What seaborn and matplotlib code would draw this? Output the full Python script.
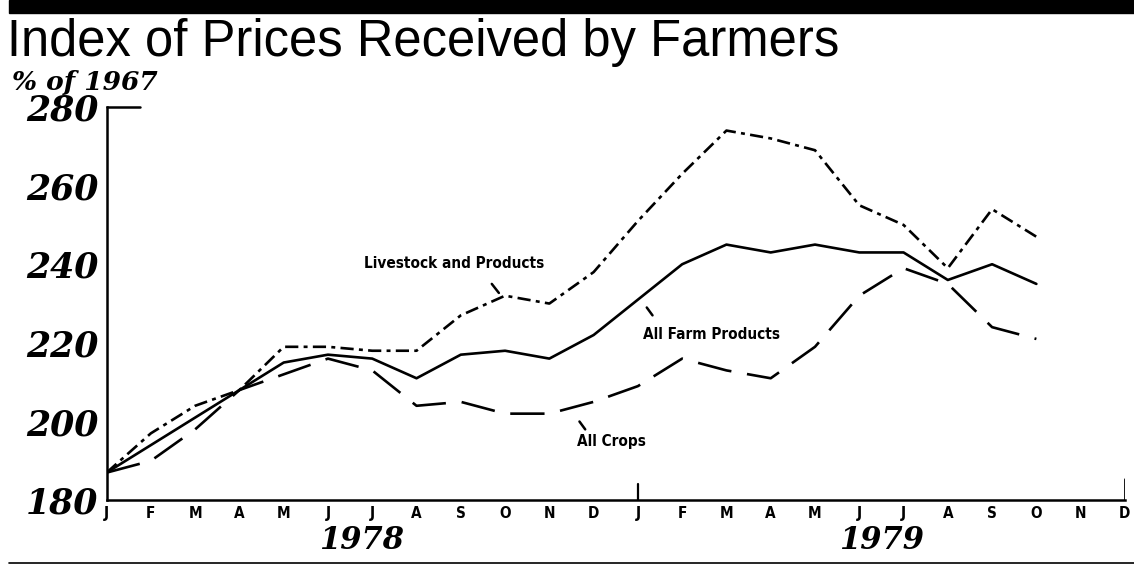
import pandas as pd
import matplotlib.pyplot as plt
import seaborn as sns
from matplotlib.patches import Rectangle
from matplotlib.lines import Line2D
import matplotlib.transforms as mtransforms

# Data (index, 1967 = 100), Jan 1978 .. Oct 1979
month_labels = ['J', 'F', 'M', 'A', 'M', 'J', 'J', 'A', 'S', 'O', 'N', 'D'] * 2
livestock = [187, 197, 204, 208, 219, 219, 218, 218, 227, 232, 230, 238,
             251, 263, 274, 272, 269, 255, 250, 239, 254, 247]
all_farm = [187, 194, 201, 208, 215, 217, 216, 211, 217, 218, 216, 222,
            231, 240, 245, 243, 245, 243, 243, 236, 240, 235]
all_crops = [187, 190, 198, 208, 212, 216, 213, 204, 205, 202, 202, 205,
             209, 216, 213, 211, 219, 232, 239, 235, 224, 221]
years = ['1978', '1979']

rows = []
for name, vals in [('Livestock and Products', livestock),
                   ('All Farm Products', all_farm),
                   ('All Crops', all_crops)]:
    for i, v in enumerate(vals):
        rows.append({'month': i, 'value': v, 'series': name})
df = pd.DataFrame(rows)

sns.set_style('white')
plt.rcParams['font.family'] = ['DejaVu Sans']
plt.rcParams['text.color'] = 'black'
plt.rcParams['xtick.color'] = 'black'
plt.rcParams['ytick.color'] = 'black'
plt.rcParams['axes.edgecolor'] = 'black'

fig = plt.figure(figsize=(11.34, 5.69), dpi=100)
ax = fig.add_axes([0.094, 0.121, 0.898, 0.691])

sns.lineplot(
    data=df, x='month', y='value', hue='series', style='series',
    palette={'Livestock and Products': 'black', 'All Farm Products': 'black', 'All Crops': 'black'},
    dashes={'Livestock and Products': (5, 2, 1.5, 2), 'All Farm Products': '',
            'All Crops': (13, 6)},
    linewidth=1.9, legend=False, ax=ax,
)

ax.set_xlim(0, 23)
ax.set_ylim(180, 280)
for s in ['top', 'right']:
    ax.spines[s].set_visible(False)
ax.spines['left'].set_linewidth(1.8)
ax.spines['bottom'].set_linewidth(1.8)
ax.set_xlabel('')
ax.set_ylabel('')

# y axis
ax.set_yticks([180, 200, 220, 240, 260, 280])
ax.set_yticklabels(['180', '200', '220', '240', '260', '280'],
                   family='DejaVu Serif', fontweight='bold', style='italic', fontsize=25)
ax.tick_params(axis='y', direction='in', length=8, width=1.8, pad=6)
ax.plot([0, 0.75], [280, 280], color='black', lw=1.8, clip_on=False)

# x axis
ax.set_xticks(range(24))
ax.set_xticklabels(month_labels, family='DejaVu Sans', fontweight='bold',
                   stretch='condensed', fontsize=11)
ax.tick_params(axis='x', direction='in', length=4, width=1.4, pad=4)
ax.axvline(12, ymin=0, ymax=0.04, color='black', lw=1.6)
ax.axvline(23, ymin=0, ymax=0.055, color='black', lw=2)

trans = mtransforms.blended_transform_factory(ax.transData, fig.transFigure)
for yr, xc in zip(years, [5.75, 17.5]):
    ax.text(xc, 1 - 549 / 569, yr, transform=trans, ha='center', va='baseline',
            family='DejaVu Serif', fontweight='bold', style='italic', fontsize=22)

# series labels with leader ticks
labels = [('Livestock and Products', 7.85, 240.3, (8.7, 235), (8.86, 232.7)),
          ('All Farm Products', 13.66, 222.2, (12.2, 229), (12.33, 227)),
          ('All Crops', 11.4, 195, (10.68, 200), (10.81, 198))]
for txt, x, y, p0, p1 in labels:
    ax.text(x, y, txt, ha='center', va='center', family='DejaVu Sans',
            fontweight='bold', stretch='condensed', fontsize=11)
    ax.plot([p0[0], p1[0]], [p0[1], p1[1]], color='black', lw=1.8)

# title block
fig.add_artist(Rectangle((0.008, 0.978), 0.992, 0.022, transform=fig.transFigure,
                         color='black'))
fig.text(0.006, 1 - 56 / 569, 'Index of Prices Received by Farmers',
         family='Liberation Sans', fontsize=36.5, va='baseline', ha='left')
fig.text(0.011, 1 - 90 / 569, '% of 1967', family='DejaVu Serif',
         fontweight='bold', style='italic', fontsize=19, va='baseline', ha='left')
fig.add_artist(Line2D([0.008, 1.0], [1 - 563 / 569] * 2, transform=fig.transFigure,
                      color='black', lw=1.2))

plt.savefig('out.png', dpi=100)
